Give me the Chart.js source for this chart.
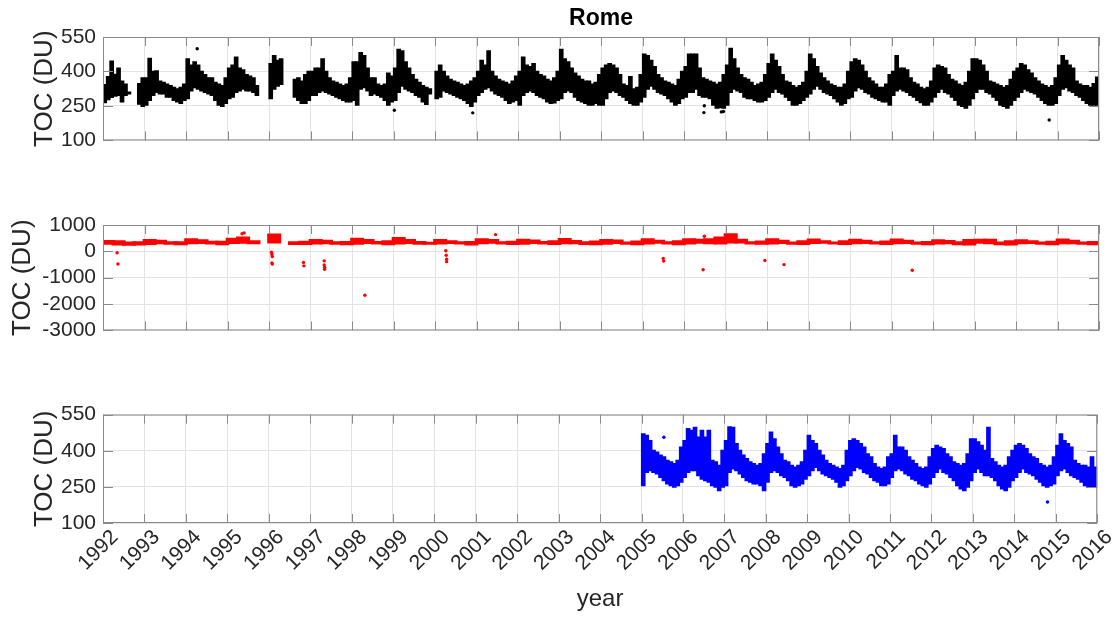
<!DOCTYPE html>
<html lang="en">
<head>
  <meta charset="UTF-8">
  <title>Rome TOC</title>
  <script src="https://cdn.jsdelivr.net/npm/chart.js"></script>
  <style>
    body { margin: 0; background: #fff; }
    #wrap { position: relative; width: 1117px; height: 619px; }
    #wrap canvas { position: absolute; left: 0; }
  </style>
</head>
<body>
  <div id="wrap">
    <canvas id="top" width="1117" height="160" style="top:0;width:1117px;height:160px"></canvas>
    <canvas id="mid" width="1117" height="190" style="top:160px;width:1117px;height:190px"></canvas>
    <canvas id="bot" width="1117" height="224" style="top:395px;width:1117px;height:224px"></canvas>
  </div>

  <script>
    // monthly ranges of the dense black cloud, 1992-2015 (DU), one row per year
    const topLow = [
      262, 275, 285, 290, 293, 265, 293, 300, null, null, 255, 245,
      251, 272, 293, 306, 300, 300, 286, 286, 272, 265, 258, 272,
      279, 313, 327, 320, 313, 306, 300, 293, 272, 251, 245, 258,
      279, 286, 306, 313, 320, 313, 313, 306, 293, null, null, null,
      279, 320, 334, 341, null, null, null, 286, 272, 258, 258, 272,
      293, 293, 306, 313, 306, 300, 293, 286, 279, 272, 265, 265,
      272, 251, 320, 327, 313, 293, 300, 293, 286, 272, 251, 265,
      272, 306, 334, 320, 313, 306, 293, 286, 265, 254, 300, null,
      279, 286, 313, 306, 300, 293, 286, 279, 272, 258, 245, 265,
      293, 306, 320, 327, 313, 300, 293, 286, 272, 258, 265, 272,
      251, 293, 306, 313, 306, 293, 286, 279, 265, 258, 261, 272,
      279, 306, 313, 306, 286, 272, 265, 258, 251, 251, 258, 251,
      251, 279, 306, 313, 306, 293, 286, 272, 258, 251, 251, 265,
      286, 320, 334, 320, 306, 300, 293, 279, 265, 251, 258, 279,
      286, 306, 306, 320, 293, 286, 286, 279, 251, 238, 240, 238,
      251, 306, 320, 313, 306, 286, 279, 279, 272, 265, 265, 272,
      286, 306, 320, 306, 300, 286, 272, 251, 251, 258, 272, 286,
      300, 320, 334, 320, 306, 300, 293, 279, 265, 251, 258, 279,
      286, 313, 327, 320, 306, 300, 286, 279, 272, 265, 265, 251,
      293, 313, 320, 313, 306, 293, 286, 272, 262, 251, 251, 265,
      286, 306, 320, 306, 300, 286, 272, 251, 245, 238, 251, 279,
      306, 320, 320, 306, 300, 286, 272, 251, 245, 238, 251, 272,
      286, 306, 320, 313, 306, 300, 286, 272, 258, 251, 251, 258,
      293, 320, 327, 313, 306, 293, 286, 272, 258, 251, 251, 251
    ];
    const topHigh = [
      345, 380, 448, 390, 417, 361, 348, 313, null, null, 350, 375,
      375, 460, 403, 405, 361, 355, 348, 341, 334, 327, 334, 348,
      458, 430, 444, 430, 403, 389, 375, 375, 355, 348, 341, 375,
      417, 430, 465, 417, 410, 389, 382, 375, 341, null, null, null,
      437, 472, 451, 458, null, null, null, 368, 375, 361, 389, 403,
      403, 417, 417, 458, 403, 375, 361, 355, 348, 341, 348, 375,
      444, 444, 485, 472, 417, 375, 375, 348, 341, 348, 396, 382,
      417, 499, 492, 444, 417, 389, 368, 355, 341, 334, 327, null,
      403, 430, 403, 382, 368, 361, 355, 348, 341, 348, 361, 375,
      403, 451, 430, 492, 403, 382, 368, 361, 355, 348, 361, 382,
      403, 465, 430, 424, 437, 403, 389, 382, 368, 361, 375, 403,
      499, 458, 444, 417, 396, 382, 368, 361, 361, 348, 355, 389,
      417, 430, 437, 430, 417, 389, 348, 341, 380, 327, 334, 389,
      478, 472, 451, 424, 389, 375, 361, 355, 348, 341, 368, 403,
      424, 478, 478, 478, 417, 375, 368, 361, 355, 348, 355, 389,
      430, 503, 458, 417, 389, 375, 368, 355, 341, 348, 355, 389,
      437, 478, 451, 424, 389, 361, 355, 341, 334, 341, 355, 403,
      478, 458, 424, 396, 375, 361, 348, 341, 334, 334, 348, 403,
      444, 458, 451, 430, 403, 375, 361, 348, 334, 334, 348, 389,
      403, 472, 417, 417, 410, 375, 355, 348, 334, 327, 334, 361,
      417, 430, 424, 417, 389, 368, 361, 348, 341, 355, 403, 458,
      458, 451, 430, 403, 361, 355, 348, 341, 334, 341, 368, 403,
      417, 437, 430, 410, 396, 375, 361, 348, 341, 334, 341, 375,
      430, 472, 451, 430, 417, 361, 348, 341, 341, 334, 350, 378
    ];
    const topOutliers = [
      [1994.27, 499], [1999.02, 231], [2000.91, 220], [2006.48, 221],
      [2006.49, 251], [2006.90, 224], [2006.95, 226], [2014.80, 189]
    ];

    // quarterly ranges of the red band, 1992-2015 (DU)
    const midLow = [
      250, 220, 210, 220,   240, 270, 250, 230,   270, 280, 260, 230,
      280, 290, 270, null,  300, null, 240, 240,  260, 270, 250, 230,
      250, 280, 260, 230,   260, 280, 250, 250,   260, 280, 260, 220,
      270, 290, 260, 240,   250, 280, 260, 240,   270, 270, 240, 230,
      250, 280, 250, 230,   260, 290, 260, 230,   260, 290, 270, 260,
      300, 300, 260, 250,   260, 280, 250, 240,   280, 290, 260, 240,
      270, 280, 260, 240,   270, 280, 250, 230,   260, 270, 230, 220,
      290, 270, 230, 220,   270, 280, 250, 230,   270, 270, 250, 230
    ];
    const midHigh = [
      430, 420, 370, 380,   470, 440, 380, 380,   500, 460, 400, 400,
      520, 560, 420, null,  680, null, 380, 400,  470, 440, 380, 390,
      520, 470, 390, 420,   540, 470, 390, 360,   470, 420, 380, 390,
      500, 470, 380, 400,   480, 450, 390, 420,   510, 430, 380, 410,
      470, 450, 370, 410,   500, 440, 380, 420,   500, 480, 500, 560,
      690, 480, 380, 410,   500, 440, 370, 420,   490, 420, 370, 420,
      480, 440, 380, 410,   490, 440, 370, 390,   460, 430, 380, 470,
      480, 480, 370, 420,   460, 420, 370, 400,   490, 440, 370, 390
    ];
    const midOutliers = [
      [1992.34, -55], [1992.36, -480], [1995.35, 670], [1995.40, 700],
      [1996.06, -30], [1996.07, -120], [1996.08, -200], [1996.07, -440],
      [1996.08, -480], [1996.83, -420], [1996.84, -550], [1997.33, -360],
      [1997.33, -520], [1997.34, -600], [1997.34, -680], [1998.31, -1666],
      [2000.26, 20], [2000.27, -150], [2000.28, -300], [2000.28, -390],
      [2001.46, 636], [2005.50, -270], [2005.51, -370], [2006.46, -697],
      [2006.49, 575], [2007.95, -345], [2008.41, -503], [2011.50, -720]
    ];

    // monthly ranges of the blue cloud, 2005-2015 (DU)
    const botLow = [
      253, 308, 315, 308, 301, 287, 273, 260, 253, 246, 253, 267,
      287, 308, 315, 315, 294, 280, 273, 267, 253, 246, 232, 246,
      253, 308, 322, 315, 301, 287, 273, 267, 260, 260, 253, 232,
      267, 308, 315, 308, 294, 287, 273, 253, 246, 253, 260, 280,
      294, 315, 328, 315, 301, 294, 287, 280, 267, 246, 253, 273,
      294, 315, 328, 322, 308, 301, 287, 273, 267, 253, 253, 260,
      287, 315, 322, 315, 301, 294, 280, 273, 260, 253, 246, 260,
      287, 308, 322, 308, 301, 287, 273, 253, 239, 232, 246, 273,
      308, 322, 308, 294, 294, 287, 273, 253, 239, 232, 246, 273,
      287, 308, 322, 308, 301, 294, 280, 267, 253, 246, 253, 260,
      294, 315, 322, 308, 294, 287, 280, 267, 253, 246, 246, 246
    ];
    const botHigh = [
      473, 466, 445, 404, 397, 384, 377, 363, 356, 349, 363, 418,
      445, 494, 487, 500, 459, 487, 459, 487, 363, 356, 342, 404,
      445, 502, 500, 432, 404, 384, 370, 356, 349, 342, 349, 390,
      432, 480, 452, 418, 390, 363, 356, 342, 335, 342, 356, 404,
      466, 445, 432, 404, 384, 363, 349, 342, 335, 328, 342, 404,
      445, 452, 445, 432, 418, 390, 377, 349, 335, 328, 335, 377,
      390, 466, 418, 418, 404, 377, 363, 349, 335, 328, 335, 377,
      411, 425, 418, 411, 390, 377, 356, 349, 342, 349, 390, 452,
      452, 439, 425, 404, 500, 370, 356, 342, 335, 342, 377, 404,
      425, 432, 425, 411, 390, 377, 370, 349, 342, 335, 342, 377,
      425, 473, 445, 432, 418, 363, 349, 342, 342, 335, 377, 335
    ];
    const botOutliers = [[2005.54, 456], [2014.80, 187]];

    const FONT = '"Liberation Sans", Arial, sans-serif';
    const INK = '#262626';
    const GRID = '#e3e3e3';
    const BOX = '#8a8a8a';

    function bars(start, perYear, lows, highs) {
      const out = [];
      lows.forEach((lo, i) => {
        if (lo == null || highs[i] == null) return;
        out.push({ x: start + (i + 0.5) / perYear, y: [lo, highs[i]] });
      });
      return out;
    }
    const pts = arr => arr.map(p => ({ x: p[0], y: p[1] }));

    // MATLAB style box with inward ticks on all four sides
    const boxPlugin = {
      id: 'box',
      afterDatasetsDraw(chart) {
        const { ctx, chartArea: a, scales: { x, y } } = chart;
        ctx.save();
        ctx.strokeStyle = BOX;
        ctx.lineWidth = 1;
        ctx.strokeRect(a.left + 0.5, a.top + 0.5, a.right - a.left - 1, a.bottom - a.top - 1);
        ctx.beginPath();
        x.ticks.forEach(t => {
          const px = Math.round(x.getPixelForValue(t.value)) + 0.5;
          ctx.moveTo(px, a.top); ctx.lineTo(px, a.top + 9);
          ctx.moveTo(px, a.bottom); ctx.lineTo(px, a.bottom - 9);
        });
        y.ticks.forEach(t => {
          const py = Math.round(y.getPixelForValue(t.value)) + 0.5;
          ctx.moveTo(a.left, py); ctx.lineTo(a.left + 10, py);
          ctx.moveTo(a.right, py); ctx.lineTo(a.right - 10, py);
        });
        ctx.stroke();
        ctx.restore();
      }
    };

    const titlePlugin = {
      id: 'plotTitle',
      afterDraw(chart) {
        const { ctx, chartArea: a } = chart;
        ctx.save();
        ctx.font = 'bold 23px ' + FONT;
        ctx.fillStyle = '#000';
        ctx.textAlign = 'center';
        ctx.textBaseline = 'middle';
        ctx.fillText('Rome', (a.left + a.right) / 2, 19);
        ctx.restore();
      }
    };

    function makeChart(id, o) {
      const datasets = [
        {
          data: o.bars, backgroundColor: o.color, borderWidth: 0,
          barPercentage: 1.35, categoryPercentage: 1, grouped: false
        },
        {
          type: 'scatter', data: o.points, backgroundColor: o.color,
          borderWidth: 0, pointRadius: 1.7
        }
      ];
      return new Chart(document.getElementById(id), {
        type: 'bar',
        data: { datasets },
        plugins: o.plugins,
        options: {
          responsive: false,
          maintainAspectRatio: false,
          devicePixelRatio: 1,
          animation: false,
          layout: { padding: { left: 0, right: 18, top: o.padTop, bottom: o.padBottom } },
          plugins: { legend: { display: false }, tooltip: { enabled: false } },
          scales: {
            x: {
              type: 'linear', min: 1992, max: 2016, offset: false,
              grid: { color: GRID, drawTicks: false, offset: false },
              border: { display: false },
              ticks: {
                display: o.showX, stepSize: 1, autoSkip: false,
                minRotation: 45, maxRotation: 45, padding: 2, labelOffset: 12,
                color: INK, font: { family: FONT, size: 21 },
                callback: v => String(v)
              },
              title: {
                display: o.showX, text: 'year', color: INK,
                font: { family: FONT, size: 24 }, padding: { top: 0, bottom: 5 }
              },
              afterFit(s) { s.height = o.xHeight; }
            },
            y: {
              min: o.yMin, max: o.yMax,
              grid: { color: GRID, drawTicks: false },
              border: { display: false },
              ticks: {
                stepSize: o.yStep, padding: 7, color: INK, autoSkip: false,
                font: { family: FONT, size: 21 },
                callback: v => String(v)
              },
              title: {
                display: true, text: 'TOC (DU)', color: INK,
                font: { family: FONT, size: 26 }, padding: { top: o.titleGap, bottom: 0 }
              },
              afterFit(s) { s.width = 103; }
            }
          }
        }
      });
    }

    makeChart('top', {
      bars: bars(1992, 12, topLow, topHigh), points: pts(topOutliers), color: '#000000',
      yMin: 100, yMax: 550, yStep: 150, padTop: 37, padBottom: 13, xHeight: 0,
      titleGap: 29, showX: false, plugins: [boxPlugin, titlePlugin]
    });
    makeChart('mid', {
      bars: bars(1992, 4, midLow, midHigh), points: pts(midOutliers), color: '#ff0000',
      yMin: -3000, yMax: 1000, yStep: 1000, padTop: 65, padBottom: 15, xHeight: 0,
      titleGap: 7, showX: false, plugins: [boxPlugin]
    });
    makeChart('bot', {
      bars: bars(2005, 12, botLow, botHigh), points: pts(botOutliers), color: '#0000ff',
      yMin: 100, yMax: 550, yStep: 150, padTop: 18, padBottom: 0, xHeight: 96,
      titleGap: 29, showX: true, plugins: [boxPlugin]
    });
  </script>
</body>
</html>
